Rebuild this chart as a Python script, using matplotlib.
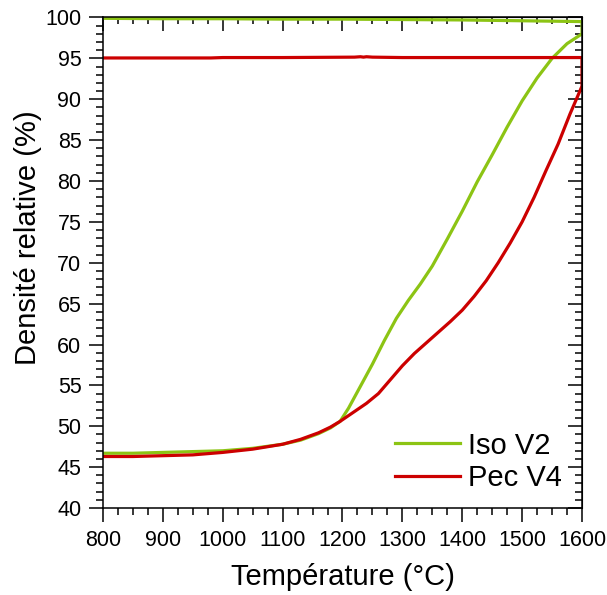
import matplotlib
matplotlib.use("Agg")
import matplotlib.pyplot as plt
from matplotlib.ticker import MultipleLocator

plt.rcParams['font.family'] = ['Liberation Sans', 'DejaVu Sans']

# Iso V2 : heating ramp then cooling plateau
iso_heat_T = [800, 850, 900, 950, 1000, 1050, 1100, 1130, 1160, 1180, 1196, 1210, 1230,
              1250, 1270, 1290, 1310, 1330, 1350, 1375, 1400, 1425, 1450, 1475, 1500,
              1525, 1550, 1575, 1600]
iso_heat_d = [46.7, 46.7, 46.8, 46.9, 47.0, 47.3, 47.8, 48.3, 49.1, 49.8, 50.6, 52.2, 54.9,
              57.6, 60.5, 63.2, 65.4, 67.4, 69.6, 72.9, 76.3, 79.9, 83.2, 86.6, 89.8,
              92.6, 95.0, 96.8, 98.0]
iso_cool_T = [1600, 1550, 1500, 1450, 1400, 1300, 1200, 1100, 1000, 900, 800]
iso_cool_d = [99.5, 99.55, 99.6, 99.65, 99.7, 99.75, 99.8, 99.8, 99.85, 99.85, 99.9]

# Pec V4
pec_heat_T = [800, 850, 900, 950, 1000, 1050, 1100, 1130, 1160, 1180, 1196, 1220, 1240,
              1260, 1280, 1300, 1320, 1340, 1360, 1380, 1400, 1420, 1440, 1460, 1480,
              1500, 1520, 1540, 1560, 1580, 1600]
pec_heat_d = [46.3, 46.3, 46.4, 46.5, 46.8, 47.2, 47.8, 48.4, 49.2, 49.9, 50.6, 51.8, 52.8,
              54.0, 55.7, 57.4, 58.9, 60.2, 61.5, 62.8, 64.2, 65.9, 67.8, 70.0, 72.4,
              75.0, 78.0, 81.3, 84.5, 88.2, 91.6]
pec_cool_T = [1600, 1500, 1400, 1300, 1250, 1240, 1235, 1230, 1220, 1100, 1000, 980, 900, 800]
pec_cool_d = [95.1, 95.1, 95.1, 95.1, 95.15, 95.2, 95.15, 95.2, 95.15, 95.1, 95.1, 95.05,
              95.05, 95.05]

green = "#8cc414"
red = "#cc0000"

fig = plt.figure(figsize=(6.07, 5.95), dpi=100)
ax = fig.add_axes([0.1697, 0.1462, 0.7891, 0.8244])

ax.plot(iso_heat_T + iso_cool_T, iso_heat_d + iso_cool_d, color=green, lw=2.3, label="Iso V2")
ax.plot(pec_heat_T + pec_cool_T, pec_heat_d + pec_cool_d, color=red, lw=2.3, label="Pec V4")

ax.set_xlim(800, 1600)
ax.set_ylim(40, 100)
ax.xaxis.set_major_locator(MultipleLocator(100))
ax.xaxis.set_minor_locator(MultipleLocator(25))
ax.yaxis.set_major_locator(MultipleLocator(5))
ax.yaxis.set_minor_locator(MultipleLocator(1))

ax.tick_params(which='both', direction='out', width=1.1, labelsize=15.5, pad=5.5)
ax.tick_params(which='major', length=10)
ax.tick_params(which='minor', length=5)
for s in ax.spines.values():
    s.set_linewidth(1.1)

# mirrored inward ticks on top and right
axt = ax.secondary_xaxis('top')
axt.xaxis.set_major_locator(MultipleLocator(100))
axt.xaxis.set_minor_locator(MultipleLocator(25))
axt.tick_params(which='both', direction='in', width=1.1, labeltop=False)
axt.tick_params(which='major', length=10)
axt.tick_params(which='minor', length=5)
axr = ax.secondary_yaxis('right')
axr.yaxis.set_major_locator(MultipleLocator(5))
axr.yaxis.set_minor_locator(MultipleLocator(1))
axr.tick_params(which='both', direction='in', width=1.1, labelright=False)
axr.tick_params(which='major', length=10)
axr.tick_params(which='minor', length=5)

ax.set_xlabel("Température (°C)", fontsize=21, labelpad=9)
ax.set_ylabel("Densité relative (%)", fontsize=21)
ax.yaxis.set_label_coords(-0.128, 0.552)

ax.legend(loc='lower right', bbox_to_anchor=(0.983, 0.009), frameon=False, fontsize=21,
          handlelength=2.2, labelspacing=0.15, handletextpad=0.3, borderaxespad=0)

fig.savefig("out.png", dpi=100)
